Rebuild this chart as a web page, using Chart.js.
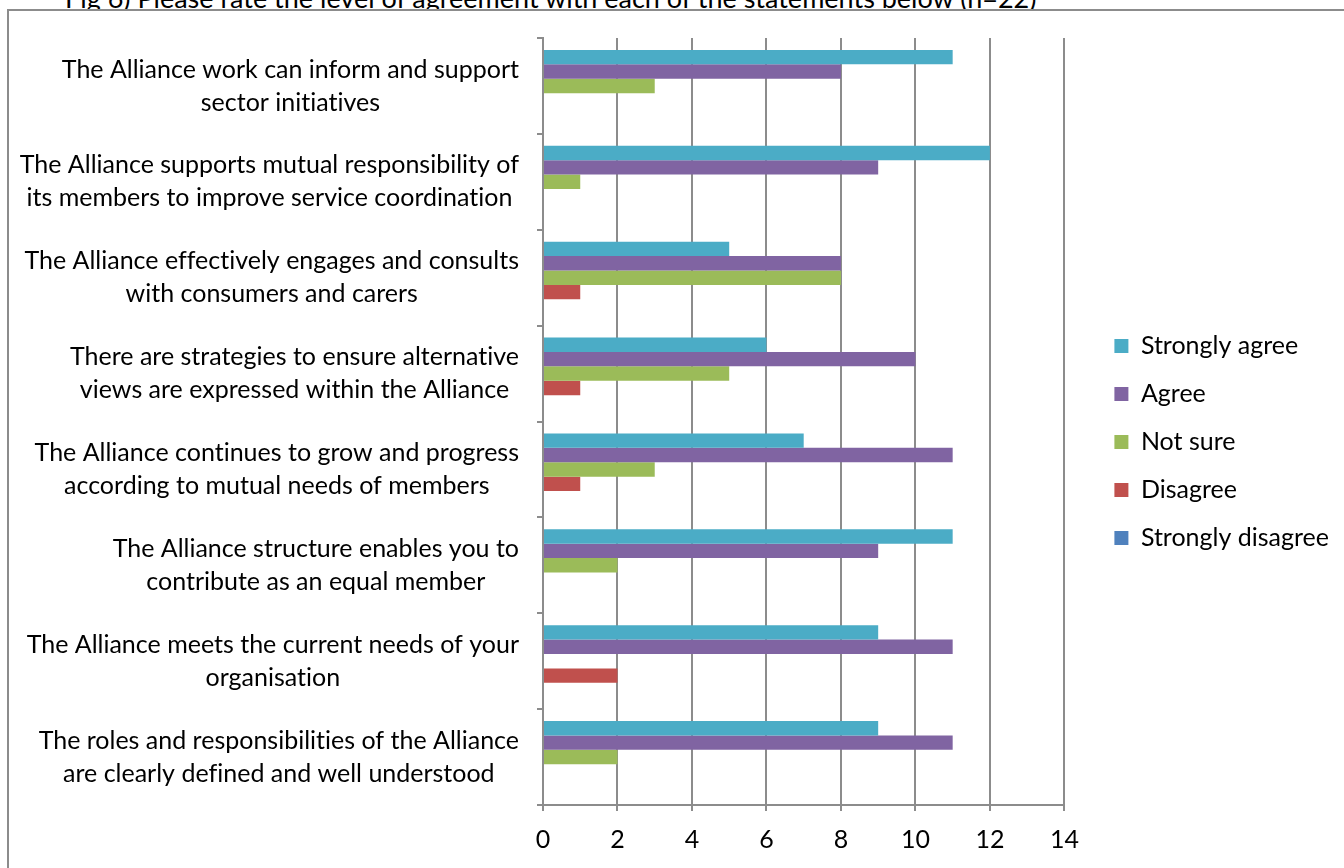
<!DOCTYPE html>
<html><head><meta charset="utf-8">
<script src="https://cdn.jsdelivr.net/npm/chart.js@4.4.1/dist/chart.umd.min.js"></script>
<style>
html,body{margin:0;padding:0;background:#fff;width:1344px;height:868px;overflow:hidden;}
#title{position:absolute;left:65px;top:-16px;font-family:Lato,sans-serif;font-size:27px;line-height:27px;white-space:nowrap;color:#000;text-rendering:optimizeSpeed;font-variant-ligatures:none;}
#box{position:absolute;left:7px;top:9px;width:1337px;height:859px;border-left:2px solid #8c8c8c;border-top:2px solid #8c8c8c;background:#fff;box-sizing:border-box;}
#wrap{position:absolute;left:0;top:0;width:1335px;height:857px;}
</style></head>
<body>
<div id="title">Fig 6) Please rate the level of agreement with each of the statements below (n=22)</div>
<div id="box"><div id="wrap"><canvas id="c"></canvas></div></div>
<script>
const categories = [
  ["The Alliance work can inform and support", "sector initiatives"],
  ["The Alliance supports mutual responsibility of", "its members to improve service coordination"],
  ["The Alliance effectively engages and consults", "with consumers and carers"],
  ["There are strategies to ensure alternative", "views are expressed within the Alliance"],
  ["The Alliance continues to grow and progress", "according to mutual needs of members"],
  ["The Alliance structure enables you to", "contribute as an equal member"],
  ["The Alliance meets the current needs of your", "organisation"],
  ["The roles and responsibilities of the Alliance", "are clearly defined and well understood"]
];
const seriesNames = ["Strongly agree", "Agree", "Not sure", "Disagree", "Strongly disagree"];
const stronglyAgree    = [11, 12, 5, 6, 7, 11, 9, 9];
const agree            = [8, 9, 8, 10, 11, 9, 11, 11];
const notSure          = [3, 1, 8, 5, 3, 2, 0, 2];
const disagree         = [0, 0, 1, 1, 1, 0, 2, 0];
const stronglyDisagree = [0, 0, 0, 0, 0, 0, 0, 0];
const xTicks = [0, 2, 4, 6, 8, 10, 12, 14];

const colors = ["#4BACC6", "#8064A2", "#9BBB59", "#C0504D", "#4F81BD"];
const FONT = "Lato, sans-serif";
const SIZE = 25;
const GRID = "#8c8c8c";

const seriesValues = [stronglyAgree, agree, notSure, disagree, stronglyDisagree];

const textPlugin = {
  id: 'catLabels',
  beforeLayout(chart) {
    try { chart.ctx.textRendering = 'optimizeSpeed'; } catch (e) {}
  },
  beforeDraw(chart) {
    try { chart.ctx.textRendering = 'optimizeSpeed'; } catch (e) {}
  },
  afterDraw(chart) {
    const s = chart.scales.y;
    const ctx = chart.ctx;
    ctx.save();
    try { ctx.textRendering = 'optimizeSpeed'; } catch (e) {}
    ctx.font = SIZE + "px " + FONT;
    ctx.fillStyle = "#000";
    ctx.textBaseline = "middle";
    ctx.textAlign = "center";
    chart.data.labels.forEach((lines, i) => {
      const yc = s.getPixelForValue(i);
      const w = Math.max(...lines.map(l => ctx.measureText(l).width));
      const xc = s.right - 24 - w / 2;
      lines.forEach((l, j) => ctx.fillText(l, xc, yc + (j - (lines.length - 1) / 2) * 33));
    });
    ctx.restore();
  }
};

new Chart(document.getElementById('c'), {
  type: 'bar',
  data: {
    labels: categories,
    datasets: seriesNames.map((n, i) => ({
      label: n,
      data: seriesValues[i],
      backgroundColor: colors[i],
      borderWidth: 0,
      categoryPercentage: 0.75,
      barPercentage: 1.0
    }))
  },
  options: {
    indexAxis: 'y',
    responsive: true,
    maintainAspectRatio: false,
    animation: false,
    layout: { padding: { top: 5, bottom: 0, left: 0, right: 5 } },
    plugins: {
      tooltip: { enabled: false },
      legend: {
        position: 'right',
        maxWidth: 400,
        labels: {
          boxWidth: 14, boxHeight: 14, padding: 23,
          color: '#000',
          font: { family: FONT, size: SIZE }
        }
      }
    },
    scales: {
      x: {
        min: 0, max: 14,
        afterBuildTicks: (s) => { s.ticks = xTicks.map(v => ({ value: v })); },
        grid: { color: GRID, lineWidth: 2, tickLength: 6, drawTicks: true },
        border: { color: GRID, width: 2 },
        ticks: { color: '#000', padding: 14, font: { family: FONT, size: SIZE } },
        afterFit: (s) => { s.height = 63; }
      },
      y: {
        grid: { color: GRID, lineWidth: 2, drawOnChartArea: false, drawTicks: true, tickLength: 6, offset: true },
        border: { color: GRID, width: 2 },
        ticks: { display: false },
        afterFit: (s) => { s.width = 534; }
      },
      padRight: {
        type: 'linear', position: 'right', display: true,
        grid: { display: false }, border: { display: false },
        ticks: { display: false },
        afterFit: (s) => { s.width = 27; }
      },
      padTop: {
        type: 'linear', position: 'top', display: true,
        grid: { display: false }, border: { display: false },
        ticks: { display: false },
        afterFit: (s) => { s.height = 22; }
      }
    }
  },
  plugins: [textPlugin]
});
</script>
</body></html>
